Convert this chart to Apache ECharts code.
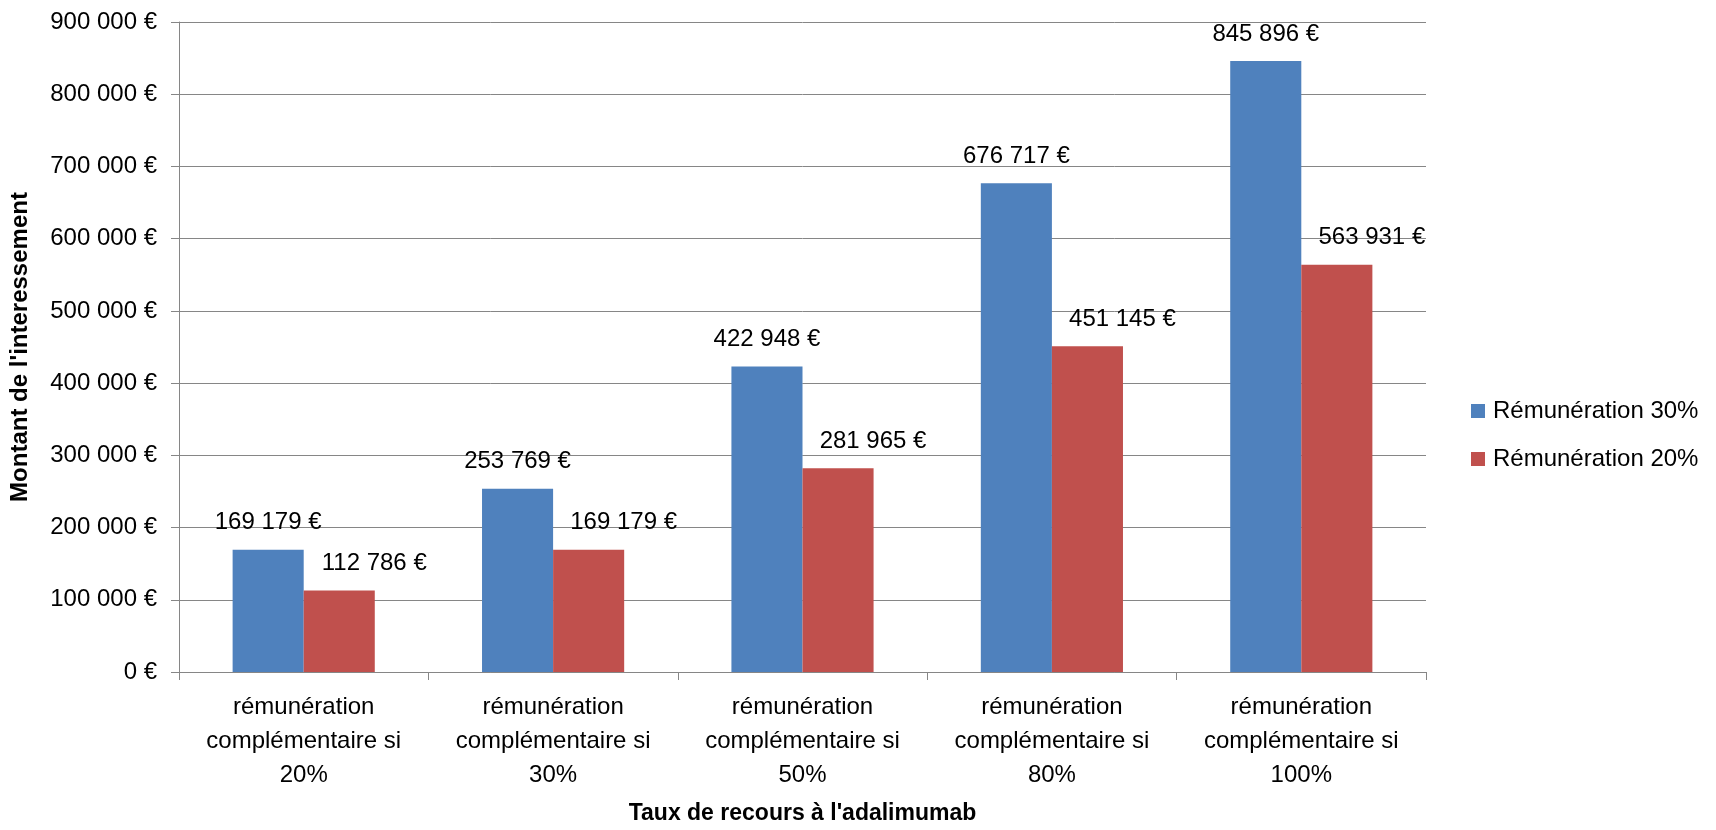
<!DOCTYPE html>
<html>
<head>
<meta charset="utf-8">
<script src="https://cdn.jsdelivr.net/npm/echarts@6/dist/echarts.min.js"></script>
<style>
html,body{margin:0;padding:0;background:#fff;}
#chart{width:1716px;height:830px;}
</style>
</head>
<body>
<div id="chart"></div>
<script>
const categories = [
  "rémunération\ncomplémentaire si\n20%",
  "rémunération\ncomplémentaire si\n30%",
  "rémunération\ncomplémentaire si\n50%",
  "rémunération\ncomplémentaire si\n80%",
  "rémunération\ncomplémentaire si\n100%"
];
const seriesNames = ["Rémunération 30%", "Rémunération 20%"];
const remun30 = [169179, 253769, 422948, 676717, 845896];
const remun20 = [112786, 169179, 281965, 451145, 563931];
const yAxisName = "Montant de l'interessement";
const xAxisName = "Taux de recours à l'adalimumab";

const FONT = "Liberation Sans";
function euro(v) {
  return String(Math.round(v)).replace(/\B(?=(\d{3})+(?!\d))/g, ' ') + ' €';
}

const chart = echarts.init(document.getElementById('chart'), null, {renderer: 'canvas'});
chart.setOption({
  animation: false,
  backgroundColor: '#ffffff',
  textStyle: {fontFamily: FONT, color: '#000'},
  grid: {left: 175, right: 290, top: 22, bottom: 150, containLabel: false},
  legend: {
    orient: 'vertical',
    left: 1466,
    top: 394,
    itemWidth: 14,
    itemHeight: 14,
    itemGap: 24,
    icon: 'rect',
    textStyle: {fontFamily: FONT, fontSize: 24, color: '#000', padding: [0, 0, 0, 3]},
    data: seriesNames
  },
  xAxis: {
    type: 'category',
    data: categories,
    name: xAxisName,
    nameLocation: 'middle',
    nameGap: 130,
    nameTextStyle: {fontFamily: FONT, fontSize: 23, fontWeight: 'bold', color: '#000'},
    axisLine: {lineStyle: {color: '#868686', width: 1}},
    axisTick: {show: true, length: 8, lineStyle: {color: '#868686'}},
    axisLabel: {fontFamily: FONT, fontSize: 24, color: '#000', margin: 18, lineHeight: 34, interval: 0},
    splitLine: {show: false}
  },
  yAxis: {
    type: 'value',
    min: 0,
    max: 900000,
    interval: 100000,
    name: yAxisName,
    nameLocation: 'middle',
    nameGap: 147,
    nameRotate: 90,
    nameTextStyle: {fontFamily: FONT, fontSize: 24, fontWeight: 'bold', color: '#000'},
    axisLine: {show: true, lineStyle: {color: '#868686', width: 1}},
    axisTick: {show: true, length: 8, lineStyle: {color: '#868686'}},
    axisLabel: {fontFamily: FONT, fontSize: 24, color: '#000', margin: 22, formatter: euro},
    splitLine: {show: true, lineStyle: {color: '#868686', width: 1}}
  },
  series: [
    {
      name: seriesNames[0],
      type: 'bar',
      data: remun30,
      barGap: '0%',
      barCategoryGap: '43%',
      itemStyle: {color: '#4F81BD'},
      label: {show: true, position: 'top', distance: 15, fontFamily: FONT, fontSize: 24, color: '#000', formatter: p => euro(p.value)}
    },
    {
      name: seriesNames[1],
      type: 'bar',
      data: remun20,
      barGap: '0%',
      barCategoryGap: '43%',
      itemStyle: {color: '#C0504D'},
      label: {show: true, position: 'top', distance: 15, offset: [35, 0], fontFamily: FONT, fontSize: 24, color: '#000', formatter: p => euro(p.value)}
    }
  ]
});
</script>
</body>
</html>
